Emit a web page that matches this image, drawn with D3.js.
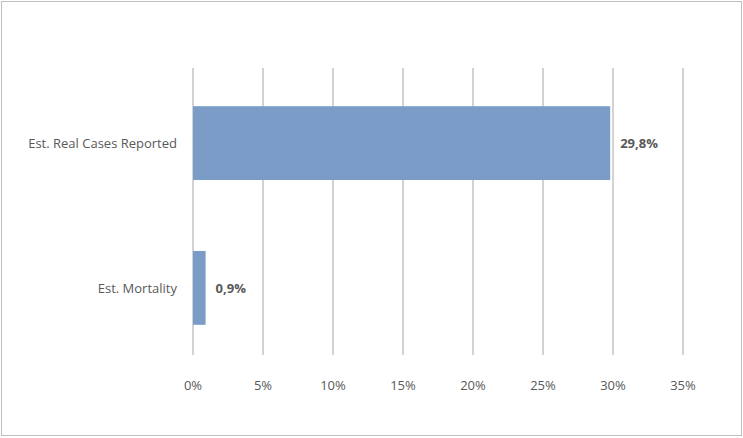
<!DOCTYPE html>
<html><head><meta charset="utf-8">
<script src="https://cdn.jsdelivr.net/npm/d3@7"></script>
<style>body{margin:0;background:#fff}</style>
</head><body>
<svg id="c" width="743" height="438"></svg>
<script>
const categories = ["Est. Real Cases Reported", "Est. Mortality"];
const values = [29.8, 0.9];
const valueLabels = ["29,8%", "0,9%"];
const ticks = [0, 5, 10, 15, 20, 25, 30, 35];

const svg = d3.select("#c");
svg.append("rect").attr("x",1.5).attr("y",1.5).attr("width",740).attr("height",434)
  .attr("fill","#fff").attr("stroke","#bfbfbf");
const x = d3.scaleLinear().domain([0,35]).range([193,683]);
const y = d3.scaleBand().domain(categories).range([70,361]).paddingInner(0.49).paddingOuter(0.25);
const font = "'Open Sans', sans-serif";
svg.append("g").selectAll("line").data(ticks).join("line")
  .attr("x1",d=>x(d)).attr("x2",d=>x(d)).attr("y1",68).attr("y2",355)
  .attr("stroke","#a6a6a6").attr("stroke-width",1);
svg.append("g").selectAll("text").data(ticks).join("text")
  .attr("x",d=>x(d)).attr("y",390).attr("text-anchor","middle")
  .attr("font-family",font).attr("font-size",13).attr("fill","#595959")
  .text(d=>d+"%");
svg.append("g").selectAll("rect").data(values).join("rect")
  .attr("x",x(0)).attr("y",(d,i)=>y(categories[i]))
  .attr("width",d=>x(d)-x(0)).attr("height",y.bandwidth())
  .attr("fill","#7a9cc6");
svg.append("g").selectAll("text").data(values).join("text")
  .attr("x",d=>x(d)+10).attr("y",(d,i)=>y(categories[i])+y.bandwidth()/2+5)
  .attr("font-family",font).attr("font-size",13).attr("font-weight","bold").attr("fill","#595959")
  .text((d,i)=>valueLabels[i]);
svg.append("g").selectAll("text").data(categories).join("text")
  .attr("x",177).attr("y",d=>y(d)+y.bandwidth()/2+5).attr("text-anchor","end")
  .attr("font-family",font).attr("font-size",13).attr("fill","#595959")
  .text(d=>d);
</script>
</body></html>
